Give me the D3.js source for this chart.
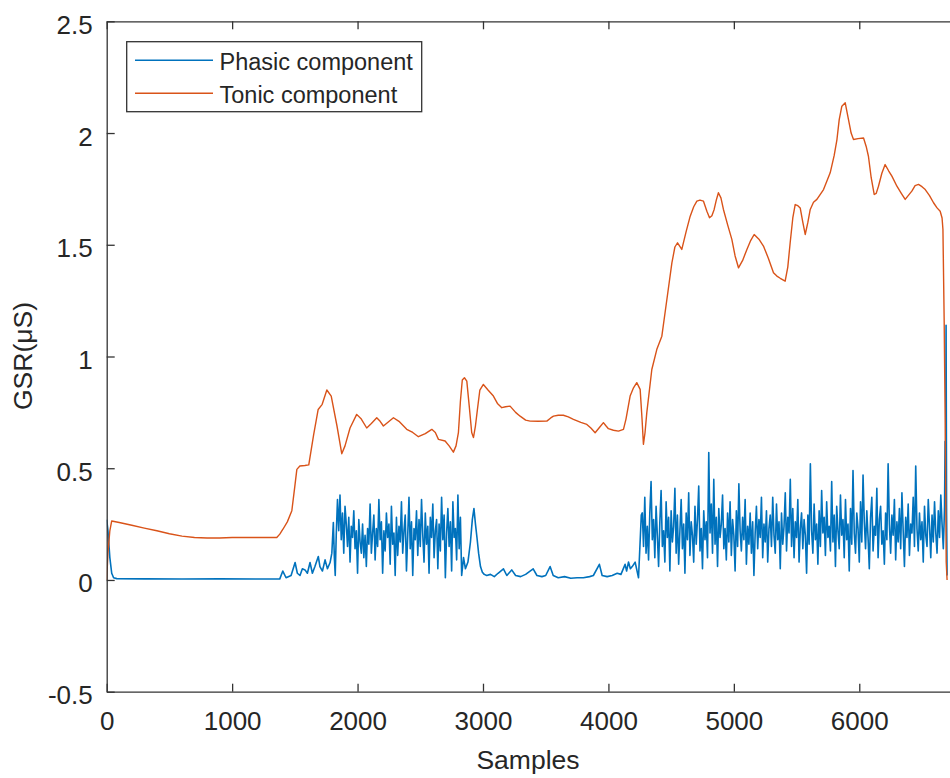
<!DOCTYPE html>
<html><head><meta charset="utf-8">
<script src="https://cdn.jsdelivr.net/npm/d3@7"></script>
<style>
body{margin:0;background:#fff}
svg{display:block}
text{font-family:"Liberation Sans",Arial,Helvetica,sans-serif;fill:#262626}
</style>
</head><body>
<svg id="c" width="950" height="778"></svg>
<script>
// ---------- data ----------
const xTicks = [0, 1000, 2000, 3000, 4000, 5000, 6000];
const yTicks = [-0.5, 0, 0.5, 1, 1.5, 2, 2.5];
const yTickLabels = ["-0.5", "0", "0.5", "1", "1.5", "2", "2.5"];
const seriesNames = ["Phasic component", "Tonic component"];
const xLabel = "Samples";
const yLabel = "GSR(\u03bcS)";

// tonic component: [sample, value]
const tonic = [[0,0.0],[10,0.12],[25,0.22],[40,0.264],[100,0.257],[200,0.245],[300,0.232],[400,0.22],[500,0.207],[600,0.196],[700,0.19],[800,0.188],[900,0.188],[1000,0.19],[1100,0.19],[1200,0.19],[1300,0.19],[1356,0.19],[1380,0.205],[1405,0.227],[1440,0.26],[1476,0.31],[1500,0.42],[1516,0.495],[1540,0.51],[1580,0.512],[1611,0.515],[1650,0.65],[1686,0.763],[1718,0.786],[1755,0.85],[1790,0.823],[1836,0.689],[1874,0.565],[1900,0.6],[1940,0.68],[1993,0.741],[2030,0.72],[2073,0.68],[2110,0.7],[2153,0.726],[2180,0.71],[2206,0.689],[2240,0.705],[2286,0.726],[2330,0.71],[2392,0.674],[2440,0.66],[2485,0.641],[2540,0.655],[2592,0.674],[2620,0.66],[2645,0.629],[2698,0.622],[2730,0.6],[2764,0.572],[2785,0.6],[2804,0.659],[2820,0.8],[2835,0.895],[2852,0.905],[2871,0.89],[2890,0.78],[2910,0.66],[2924,0.637],[2940,0.69],[2955,0.76],[2975,0.85],[3003,0.875],[3040,0.85],[3083,0.823],[3115,0.79],[3150,0.771],[3180,0.775],[3216,0.778],[3260,0.75],[3296,0.733],[3340,0.715],[3376,0.711],[3440,0.71],[3509,0.711],[3540,0.725],[3562,0.733],[3600,0.737],[3641,0.737],[3680,0.73],[3721,0.719],[3780,0.705],[3828,0.696],[3860,0.68],[3894,0.659],[3925,0.68],[3960,0.704],[3980,0.69],[4000,0.677],[4040,0.67],[4080,0.666],[4120,0.674],[4140,0.72],[4173,0.823],[4200,0.86],[4226,0.883],[4253,0.853],[4268,0.72],[4279,0.607],[4292,0.66],[4306,0.749],[4346,0.942],[4386,1.032],[4426,1.091],[4466,1.255],[4506,1.419],[4530,1.49],[4551,1.509],[4585,1.479],[4620,1.56],[4652,1.628],[4680,1.67],[4705,1.695],[4730,1.7],[4758,1.695],[4785,1.65],[4806,1.621],[4825,1.63],[4843,1.658],[4860,1.7],[4877,1.733],[4897,1.71],[4917,1.658],[4950,1.59],[4984,1.524],[5010,1.45],[5037,1.397],[5070,1.43],[5104,1.479],[5135,1.52],[5162,1.546],[5200,1.525],[5236,1.494],[5275,1.44],[5316,1.375],[5343,1.36],[5370,1.35],[5409,1.337],[5430,1.4],[5449,1.509],[5470,1.62],[5489,1.68],[5510,1.675],[5529,1.665],[5550,1.6],[5569,1.546],[5590,1.6],[5609,1.658],[5635,1.69],[5662,1.703],[5715,1.747],[5768,1.822],[5800,1.9],[5822,1.971],[5840,2.06],[5861,2.12],[5888,2.135],[5914,2.06],[5935,2.0],[5954,1.971],[5990,1.975],[6034,1.978],[6055,1.94],[6073,1.896],[6095,1.8],[6119,1.725],[6135,1.73],[6153,1.762],[6180,1.82],[6206,1.859],[6235,1.83],[6260,1.807],[6300,1.762],[6335,1.73],[6366,1.703],[6390,1.72],[6419,1.74],[6445,1.765],[6472,1.77],[6500,1.76],[6526,1.747],[6560,1.72],[6592,1.688],[6620,1.665],[6645,1.65],[6660,1.62],[6667,1.568],[6677,1.151],[6685,0.704],[6693,0.08],[6700,0.0]];

// phasic component, quiet stretches: [sample, value]
const phasicQuietA = [[0,0.27],[10,0.22],[25,0.1],[40,0.03],[55,0.01],[80,0.006],[300,0.005],[600,0.004],[900,0.005],[1200,0.004],[1380,0.005],[1404,0.04],[1430,0.01],[1470,0.02],[1502,0.078],[1520,0.03],[1541,0.02],[1560,0.05],[1581,0.045],[1600,0.03],[1621,0.078],[1640,0.03],[1660,0.06],[1687,0.105],[1700,0.06],[1720,0.04],[1741,0.09],[1760,0.05],[1781,0.078],[1795,0.12],[1807,0.257],[1815,0.1],[1822,0.02],[1830,0.2]];
// dense burst, one value every phasicStep samples from phasicBurstAStart
const phasicStep = 10;
const phasicBurstAStart = 1840;
const phasicBurstA = [0.36,0.22,0.38,0.18,0.30,0.12,0.33,0.25,0.15,0.28,
 0.08,0.24,0.19,0.31,0.14,0.22,0.03,0.27,0.17,0.12,
 0.25,0.10,0.20,0.06,0.23,0.16,0.34,0.12,0.21,0.29,
 0.09,0.23,0.15,0.36,0.18,0.26,0.03,0.22,0.13,0.30,
 0.19,0.25,0.07,0.33,0.16,0.21,0.02,0.28,0.11,0.24,
 0.17,0.35,0.12,0.22,0.29,0.04,0.20,0.37,0.14,0.26,
 0.02,0.23,0.18,0.31,0.11,0.27,0.15,0.36,0.20,0.08,
 0.30,0.16,0.24,0.03,0.28,0.19,0.34,0.10,0.22,0.27,
 0.05,0.25,0.13,0.37,0.18,0.29,0.01,0.21,0.32,0.15,
 0.26,0.04,0.35,0.19,0.23,0.09,0.38,0.14,0.28,0.02];
const phasicQuietB = [[2845,0.1],[2860,0.05],[2880,0.08],[2900,0.17],[2915,0.27],[2928,0.32],[2940,0.25],[2952,0.19],[2965,0.12],[2980,0.06],[2995,0.035],[3010,0.025],[3030,0.02],[3060,0.025],[3090,0.015],[3120,0.03],[3163,0.05],[3190,0.02],[3229,0.045],[3260,0.02],[3300,0.015],[3340,0.025],[3400,0.05],[3430,0.02],[3470,0.015],[3500,0.02],[3535,0.06],[3560,0.02],[3600,0.01],[3650,0.015],[3700,0.008],[3750,0.01],[3800,0.01],[3850,0.015],[3880,0.02],[3928,0.07],[3950,0.02],[3990,0.015],[4030,0.02],[4070,0.03],[4100,0.025],[4133,0.07],[4145,0.04],[4160,0.08],[4175,0.05],[4190,0.06],[4213,0.08],[4240,0.01],[4255,0.2],[4262,0.29]];
const phasicBurstBStart = 4270;
const phasicBurstB = [0.30,0.15,0.37,0.12,0.24,0.09,0.30,0.44,0.18,0.27,
 0.10,0.33,0.20,0.06,0.26,0.40,0.15,0.22,0.08,0.35,
 0.19,0.28,0.04,0.31,0.17,0.24,0.41,0.12,0.29,0.07,
 0.22,0.36,0.14,0.25,0.03,0.30,0.18,0.39,0.11,0.26,
 0.20,0.08,0.33,0.16,0.27,0.42,0.13,0.23,0.05,0.31,
 0.18,0.26,0.10,0.57,0.21,0.34,0.12,0.45,0.16,0.28,
 0.06,0.32,0.19,0.25,0.38,0.14,0.23,0.09,0.30,0.17,
 0.35,0.11,0.27,0.20,0.04,0.31,0.15,0.43,0.22,0.13,
 0.28,0.18,0.36,0.07,0.24,0.16,0.30,0.12,0.26,0.02,
 0.21,0.33,0.14,0.27,0.19,0.37,0.10,0.25,0.17,0.31,
 0.08,0.23,0.29,0.15,0.37,0.20,0.12,0.34,0.18,0.26,
 0.05,0.30,0.16,0.24,0.39,0.13,0.28,0.21,0.45,0.15,
 0.32,0.10,0.26,0.19,0.36,0.08,0.23,0.30,0.14,0.27,
 0.20,0.03,0.29,0.16,0.52,0.22,0.12,0.34,0.18,0.25,
 0.07,0.31,0.15,0.40,0.21,0.28,0.11,0.35,0.19,0.24,
 0.13,0.44,0.17,0.29,0.06,0.33,0.22,0.14,0.38,0.20,
 0.27,0.10,0.36,0.18,0.25,0.04,0.32,0.16,0.49,0.21,
 0.12,0.30,0.23,0.08,0.35,0.17,0.47,0.26,0.14,0.31,
 0.19,0.05,0.28,0.37,0.13,0.24,0.20,0.41,0.10,0.27,
 0.33,0.16,0.22,0.07,0.30,0.18,0.52,0.25,0.12,0.29,
 0.20,0.36,0.09,0.26,0.17,0.32,0.14,0.39,0.22,0.06,
 0.28,0.19,0.34,0.11,0.25,0.21,0.37,0.15,0.51,0.23,
 0.13,0.30,0.18,0.26,0.08,0.33,0.20,0.15,0.36,0.24,
 0.10,0.29,0.17,0.35,0.21,0.12,0.31,0.19,0.38,0.25,
 0.14,0.33];
const phasicEnd = [[6684,0.62],[6688,0.45],[6692,1.14],[6696,0.3],[6700,0.02]];

// ---------- build ----------
const phasic = [].concat(
  phasicQuietA,
  phasicBurstA.map((v, i) => [phasicBurstAStart + i * phasicStep, v]),
  phasicQuietB,
  phasicBurstB.map((v, i) => [phasicBurstBStart + i * phasicStep, v]),
  phasicEnd
);

const colors = ["#0072BD", "#D95319"];
const axisColor = "#333333";

const L = 106.7, T = 21.3, B = 691.7;
const x = d3.scaleLinear().domain([0, 7000]).range([L, L + 7000 * 0.12543]);
const y = d3.scaleLinear().domain([-0.5, 2.5]).range([B, T]);
const R = x.range()[1];

const svg = d3.select("#c");
svg.append("rect").attr("width", 950).attr("height", 778).attr("fill", "#fff");

svg.append("clipPath").attr("id", "plot")
  .append("rect").attr("x", L).attr("y", T).attr("width", R - L).attr("height", B - T);

const line = d3.line().x(d => x(d[0])).y(d => y(d[1]));
const g = svg.append("g").attr("clip-path", "url(#plot)");
g.append("path").datum(phasic).attr("d", line)
  .attr("fill", "none").attr("stroke", colors[0]).attr("stroke-width", 1.6).attr("stroke-linejoin", "round");
g.append("path").datum(tonic).attr("d", line)
  .attr("fill", "none").attr("stroke", colors[1]).attr("stroke-width", 1.4).attr("stroke-linejoin", "round");

// axes
const fs = 26;
const xAxis = d3.axisBottom(x).tickValues(xTicks).tickSizeInner(-8).tickSizeOuter(0).tickPadding(20).tickFormat(d3.format("d"));
const gx = svg.append("g").attr("transform", `translate(0,${B})`).call(xAxis);
const xTop = d3.axisTop(x).tickValues(xTicks).tickSizeInner(-8).tickSizeOuter(0).tickFormat("");
const gt = svg.append("g").attr("transform", `translate(0,${T})`).call(xTop);
const yAxis = d3.axisLeft(y).tickValues(yTicks).tickSizeInner(-8).tickSizeOuter(0).tickPadding(14)
  .tickFormat((d, i) => yTickLabels[i]);
const gy = svg.append("g").attr("transform", `translate(${L},0)`).call(yAxis);

[gx, gt, gy].forEach(a => {
  a.select(".domain").attr("stroke", axisColor).attr("stroke-width", 1.3);
  a.selectAll(".tick line").attr("stroke", axisColor).attr("stroke-width", 1.3);
  a.selectAll(".tick text").attr("fill", axisColor).style("font-size", fs + "px")
    .style("font-family", '"Liberation Sans",Arial,sans-serif');
});
gy.selectAll(".tick text").attr("dy", "0.46em");

// axis labels
svg.append("text").attr("x", 528).attr("y", 769).attr("text-anchor", "middle")
  .attr("fill", axisColor).style("font-size", "26.5px").text(xLabel);
svg.append("text").attr("transform", "translate(32,356) rotate(-90)").attr("text-anchor", "middle")
  .attr("fill", axisColor).style("font-size", "26.5px").text(yLabel);

// legend
const lg = svg.append("g");
lg.append("rect").attr("x", 126.7).attr("y", 41.7).attr("width", 295).attr("height", 70)
  .attr("fill", "#fff").attr("stroke", axisColor).attr("stroke-width", 1.3);
const legY = [60.3, 93.3];
seriesNames.forEach((name, i) => {
  lg.append("line").attr("x1", 135).attr("x2", 213).attr("y1", legY[i]).attr("y2", legY[i])
    .attr("stroke", colors[i]).attr("stroke-width", 1.4);
  lg.append("text").attr("x", 219.5).attr("y", legY[i] + 9.5)
    .style("font-size", "23.5px").attr("fill", "#111").text(name);
});
</script>
</body></html>
